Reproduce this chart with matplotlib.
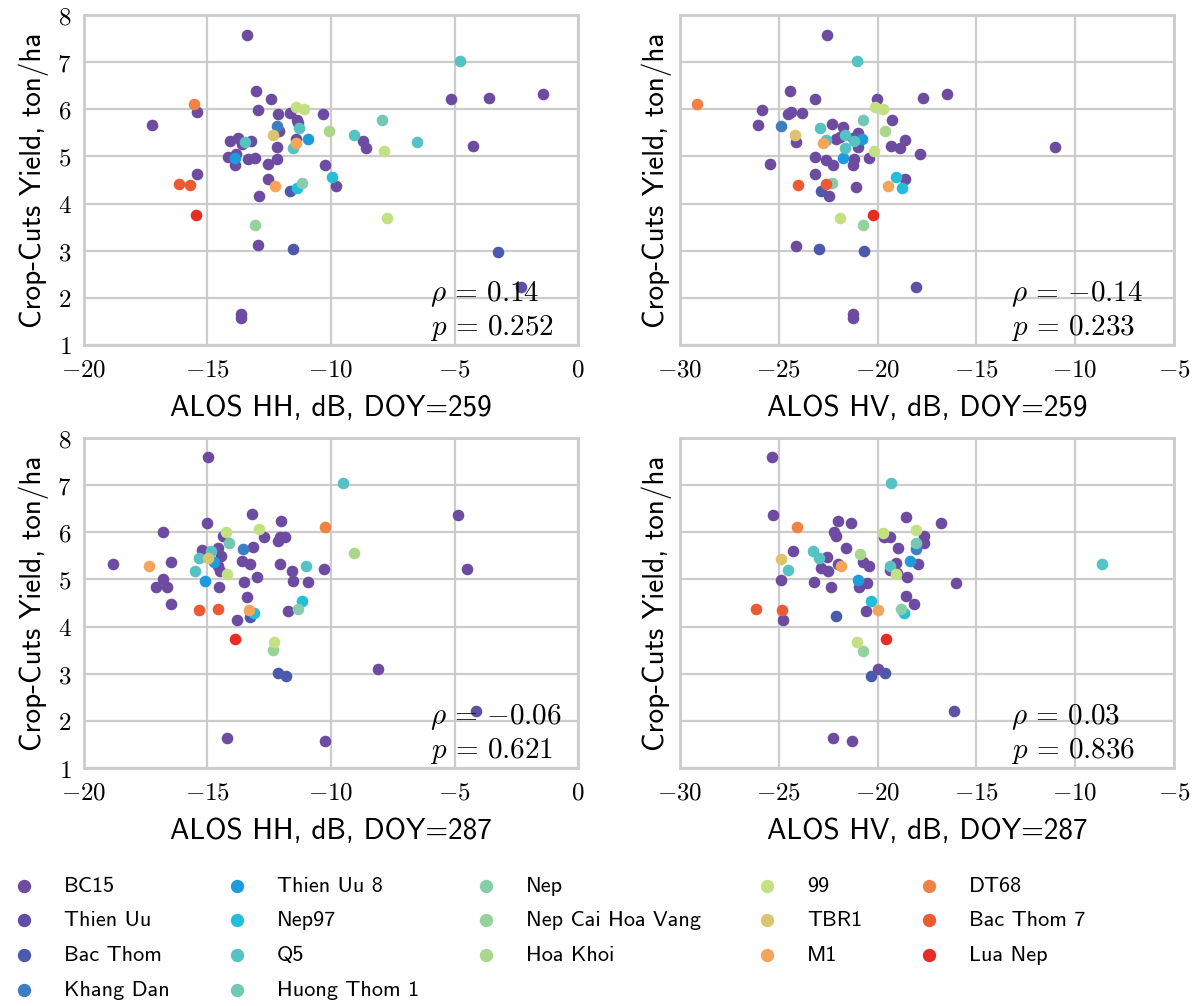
import numpy as np
import matplotlib
matplotlib.use("Agg")
import matplotlib.pyplot as plt
from matplotlib.ticker import FuncFormatter, MultipleLocator

plt.rcParams['mathtext.fontset'] = 'cm'

varieties = ['BC15', 'Thien Uu', 'Bac Thom', 'Khang Dan', 'Thien Uu 8', 'Nep97', 'Q5',
             'Huong Thom 1', 'Nep', 'Nep Cai Hoa Vang', 'Hoa Khoi', '99', 'TBR1', 'M1',
             'DT68', 'Bac Thom 7', 'Lua Nep']
colors = ['#6d4ba0', '#5f50a5', '#4b5aaa', '#3c7dc3', '#1e9bdc', '#23bed7', '#55c3c3',
          '#73c8b4', '#87cdaa', '#96d29b', '#aad78c', '#c3e182', '#dcc36e', '#f5a55a',
          '#f08246', '#eb5a32', '#e62d23']

# ALOS HH, DOY 259
hh259_x = [-13.41, -4.79, -5.14, -3.60, -1.42, -13.02, -12.43, -15.55, -15.41, -12.96,
           -11.40, -11.09, -12.13, -11.68, -10.33, -17.26, -11.37, -11.33, -7.95, -12.18,
           -12.12, -11.28, -12.36, -10.10, -9.07, -14.09, -13.78, -13.50, -13.25, -13.62,
           -11.40, -11.43, -10.93, -8.71, -8.60, -6.52, -4.25, -12.18, -11.55, -7.87,
           -13.84, -14.15, -13.90, -13.88, -13.35, -13.06, -12.19, -12.56, -10.23, -15.44,
           -12.56, -9.94, -9.78, -16.16, -15.70, -12.28, -11.65, -11.38, -11.18, -12.91,
           -15.48, -13.07, -7.74, -12.96, -11.54, -3.25, -2.29, -13.63, -13.63]
hh259_y = [7.58, 7.03, 6.21, 6.23, 6.33, 6.38, 6.21, 6.11, 5.94, 5.99,
           6.05, 6.00, 5.89, 5.92, 5.90, 5.67, 5.77, 5.70, 5.77, 5.64,
           5.53, 5.61, 5.45, 5.55, 5.45, 5.33, 5.39, 5.30, 5.33, 5.27,
           5.38, 5.28, 5.36, 5.33, 5.17, 5.31, 5.23, 5.19, 5.17, 5.11,
           5.06, 4.99, 4.96, 4.81, 4.94, 4.96, 4.94, 4.84, 4.82, 4.63,
           4.52, 4.57, 4.37, 4.41, 4.40, 4.38, 4.27, 4.32, 4.43, 4.16,
           3.75, 3.54, 3.69, 3.12, 3.04, 2.98, 2.23, 1.66, 1.58]
hh259_v = [0, 6, 0, 0, 0, 0, 0, 14, 0, 0,
           11, 11, 0, 0, 0, 0, 0, 0, 7, 3,
           0, 6, 12, 10, 6, 0, 0, 6, 0, 0,
           0, 13, 4, 0, 0, 6, 0, 0, 6, 11,
           0, 0, 4, 0, 0, 0, 0, 0, 0, 0,
           0, 5, 0, 15, 15, 13, 2, 5, 8, 0,
           16, 9, 11, 0, 2, 2, 1, 0, 0]

# ALOS HV, DOY 259
hv259_x = [-22.58, -21.02, -24.43, -23.15, -20.03, -17.70, -16.51, -29.14, -25.84, -24.52,
           -24.37, -23.85, -20.14, -19.75, -19.25, -20.75, -26.07, -24.91, -22.90, -22.30,
           -21.77, -19.63, -24.17, -24.11, -22.77, -22.60, -22.12, -21.92, -21.66, -21.27,
           -20.98, -21.20, -20.77, -20.98, -21.66, -20.17, -19.32, -18.87, -18.63, -17.87,
           -11.02, -25.43, -23.15, -22.60, -22.26, -21.75, -21.20, -21.27, -20.45, -23.15,
           -24.01, -22.60, -22.29, -22.86, -22.47, -21.10, -19.09, -18.60, -19.47, -18.75,
           -21.92, -20.21, -20.72, -24.12, -22.95, -20.68, -18.04, -21.25, -21.25]
hv259_y = [7.58, 7.03, 6.39, 6.21, 6.22, 6.23, 6.33, 6.11, 5.99, 5.89,
           5.95, 5.92, 6.05, 6.00, 5.78, 5.78, 5.67, 5.64, 5.61, 5.68,
           5.63, 5.55, 5.45, 5.30, 5.28, 5.34, 5.36, 5.41, 5.46, 5.39,
           5.50, 5.32, 5.36, 5.19, 5.18, 5.12, 5.23, 5.18, 5.34, 5.06,
           5.21, 4.84, 4.99, 4.93, 4.82, 4.96, 4.95, 4.82, 4.96, 4.63,
           4.39, 4.41, 4.43, 4.27, 4.16, 4.36, 4.57, 4.52, 4.38, 4.32,
           3.70, 3.75, 3.54, 3.11, 3.04, 2.99, 2.23, 1.66, 1.58]
hv259_v = [0, 6, 0, 0, 0, 0, 0, 14, 0, 0,
           0, 0, 11, 11, 0, 7, 0, 3, 6, 0,
           0, 10, 12, 0, 13, 6, 0, 0, 6, 0,
           0, 6, 4, 0, 6, 11, 0, 0, 0, 0,
           0, 0, 0, 0, 0, 4, 0, 0, 0, 0,
           15, 15, 8, 2, 0, 0, 5, 0, 13, 5,
           11, 16, 9, 0, 2, 2, 1, 0, 0]

# ALOS HH, DOY 287
hh287_x = [-14.99, -9.51, -4.86, -13.20, -12.02, -15.04, -16.80, -10.26, -14.25, -12.90,
           -14.39, -14.12, -12.72, -12.05, -11.86, -12.15, -13.58, -13.17, -15.23, -14.85,
           -14.57, -15.34, -14.96, -14.73, -14.46, -13.62, -13.27, -12.05, -18.82, -17.37,
           -16.46, -14.57, -14.49, -14.21, -15.50, -11.57, -11.02, -10.28, -13.01, -16.80,
           -15.11, -13.51, -11.54, -10.93, -17.10, -16.63, -14.54, -13.40, -16.46, -15.34,
           -14.57, -13.31, -13.10, -13.27, -11.18, -11.34, -11.75, -13.81, -13.89, -12.32,
           -9.05, -4.49, -12.36, -12.15, -11.81, -8.09, -4.11, -14.21, -10.24]
hh287_y = [7.59, 7.04, 6.36, 6.38, 6.23, 6.20, 6.01, 6.11, 6.01, 6.06,
           5.93, 5.77, 5.89, 5.90, 5.91, 5.81, 5.65, 5.68, 5.63, 5.61,
           5.67, 5.46, 5.45, 5.38, 5.49, 5.40, 5.33, 5.33, 5.33, 5.29,
           5.38, 5.28, 5.17, 5.11, 5.18, 5.17, 5.29, 5.22, 5.06, 5.01,
           4.96, 4.94, 4.96, 4.94, 4.83, 4.83, 4.83, 4.62, 4.48, 4.35,
           4.38, 4.35, 4.28, 4.21, 4.55, 4.37, 4.32, 4.13, 3.73, 3.67,
           5.56, 5.23, 3.50, 3.01, 2.95, 3.09, 2.20, 1.64, 1.57]
hh287_v = [0, 6, 0, 0, 0, 0, 0, 14, 11, 11,
           0, 7, 0, 0, 0, 0, 3, 0, 0, 6,
           0, 6, 12, 4, 0, 0, 0, 0, 0, 13,
           0, 0, 0, 11, 6, 0, 6, 0, 0, 0,
           4, 0, 0, 0, 0, 0, 0, 0, 0, 15,
           15, 13, 5, 2, 5, 8, 0, 0, 16, 11,
           10, 0, 9, 2, 2, 0, 1, 0, 0]

# ALOS HV, DOY 287
hv287_x = [-25.32, -19.32, -25.31, -24.09, -22.00, -21.35, -18.58, -16.78, -22.23, -22.12,
           -19.73, -18.07, -19.66, -19.35, -17.67, -17.64, -18.07, -18.05, -18.97, -24.28,
           -23.29, -22.98, -22.55, -21.58, -20.89, -24.88, -24.52, -22.86, -22.52, -22.00,
           -21.83, -20.75, -20.41, -19.38, -19.38, -19.01, -19.09, -18.37, -17.98, -19.06,
           -18.49, -16.01, -24.88, -23.20, -22.35, -21.01, -20.94, -20.55, -18.58, -18.18,
           -20.34, -20.00, -20.60, -18.80, -18.66, -24.86, -24.79, -22.09, -26.14, -21.06,
           -19.59, -8.65, -20.75, -19.96, -19.65, -20.32, -16.14, -22.25, -21.32]
hv287_y = [7.59, 7.04, 6.36, 6.11, 6.23, 6.19, 6.33, 6.20, 6.00, 5.92,
           5.99, 6.05, 5.89, 5.89, 5.92, 5.78, 5.78, 5.64, 5.67, 5.61,
           5.60, 5.46, 5.48, 5.66, 5.55, 5.44, 5.19, 5.24, 5.17, 5.32,
           5.29, 5.38, 5.29, 5.29, 5.20, 5.14, 5.34, 5.40, 5.33, 5.11,
           5.06, 4.93, 4.99, 4.95, 4.83, 4.98, 4.83, 4.93, 4.64, 4.48,
           4.55, 4.35, 4.33, 4.37, 4.28, 4.35, 4.13, 4.23, 4.38, 3.67,
           3.73, 5.32, 3.49, 3.09, 3.01, 2.95, 2.20, 1.64, 1.57]
hv287_v = [0, 6, 0, 14, 0, 0, 0, 0, 0, 0,
           11, 11, 0, 0, 0, 0, 7, 3, 0, 0,
           6, 6, 0, 0, 10, 12, 6, 0, 0, 0,
           13, 0, 0, 6, 0, 0, 0, 4, 0, 11,
           0, 0, 0, 0, 0, 4, 0, 0, 0, 0,
           5, 13, 0, 8, 5, 15, 0, 2, 15, 11,
           16, 6, 9, 0, 2, 2, 1, 0, 0]

panels = [
    (hh259_x, hh259_y, hh259_v, 'ALOS HH, dB, DOY=259', (-20, 0), '$\\rho\\,=\\,0.14$\n$p\\,=\\,0.252$', 0.70),
    (hv259_x, hv259_y, hv259_v, 'ALOS HV, dB, DOY=259', (-30, -5), '$\\rho\\,=\\,{-}0.14$\n$p\\,=\\,0.233$', 0.67),
    (hh287_x, hh287_y, hh287_v, 'ALOS HH, dB, DOY=287', (-20, 0), '$\\rho\\,=\\,{-}0.06$\n$p\\,=\\,0.621$', 0.70),
    (hv287_x, hv287_y, hv287_v, 'ALOS HV, dB, DOY=287', (-30, -5), '$\\rho\\,=\\,0.03$\n$p\\,=\\,0.836$', 0.67),
]

W, H = 1195, 1006
boxes = [(84, 15), (680, 15), (84, 438), (680, 438)]
aw, ah = 494, 330
sans = ['cmss10', 'DejaVu Sans']
grey = '#cccccc'

fig = plt.figure(figsize=(W / 100, H / 100), dpi=100)
math_fmt = FuncFormatter(lambda v, p: '$%g$' % v)

for i, (px, py, pv, xlabel, xlim, stat, tx) in enumerate(panels):
    left, top = boxes[i]
    ax = fig.add_axes([left / W, 1 - (top + ah) / H, aw / W, ah / H])
    px, py, pv = np.array(px), np.array(py), np.array(pv)
    for k, name in enumerate(varieties):
        m = pv == k
        ax.scatter(px[m], py[m], s=70, color=colors[k], linewidths=0, label=name, zorder=3)
    ax.set_xlim(*xlim)
    ax.set_ylim(1, 8)
    ax.xaxis.set_major_locator(MultipleLocator(5))
    ax.yaxis.set_major_locator(MultipleLocator(1))
    ax.xaxis.set_major_formatter(math_fmt)
    ax.yaxis.set_major_formatter(math_fmt)
    ax.grid(True, color=grey, linewidth=1.6, zorder=0)
    ax.set_axisbelow(True)
    for s in ax.spines.values():
        s.set_color(grey)
        s.set_linewidth(2.0)
    ax.tick_params(length=0, labelsize=18, pad=9)
    if i % 2 == 1:
        ax.tick_params(labelleft=False)
    ax.set_xlabel(xlabel, fontsize=21, family=sans, labelpad=10)
    ax.set_ylabel('Crop-Cuts Yield, ton/ha', fontsize=21, family=sans, labelpad=6)
    ax.text(tx, 0.005, stat, transform=ax.transAxes, ha='left', va='bottom',
            fontsize=21, zorder=4)
    if i == 0:
        handles, labels = ax.get_legend_handles_labels()

fig.legend(handles, labels, loc='upper left', bbox_to_anchor=(-0.015, 0.149),
           ncol=5, frameon=False, prop={'family': sans, 'size': 16}, markerscale=1.15,
           handlelength=2.0, handletextpad=0.8, columnspacing=2.0, labelspacing=0.68)

fig.savefig('out.png', dpi=100)
